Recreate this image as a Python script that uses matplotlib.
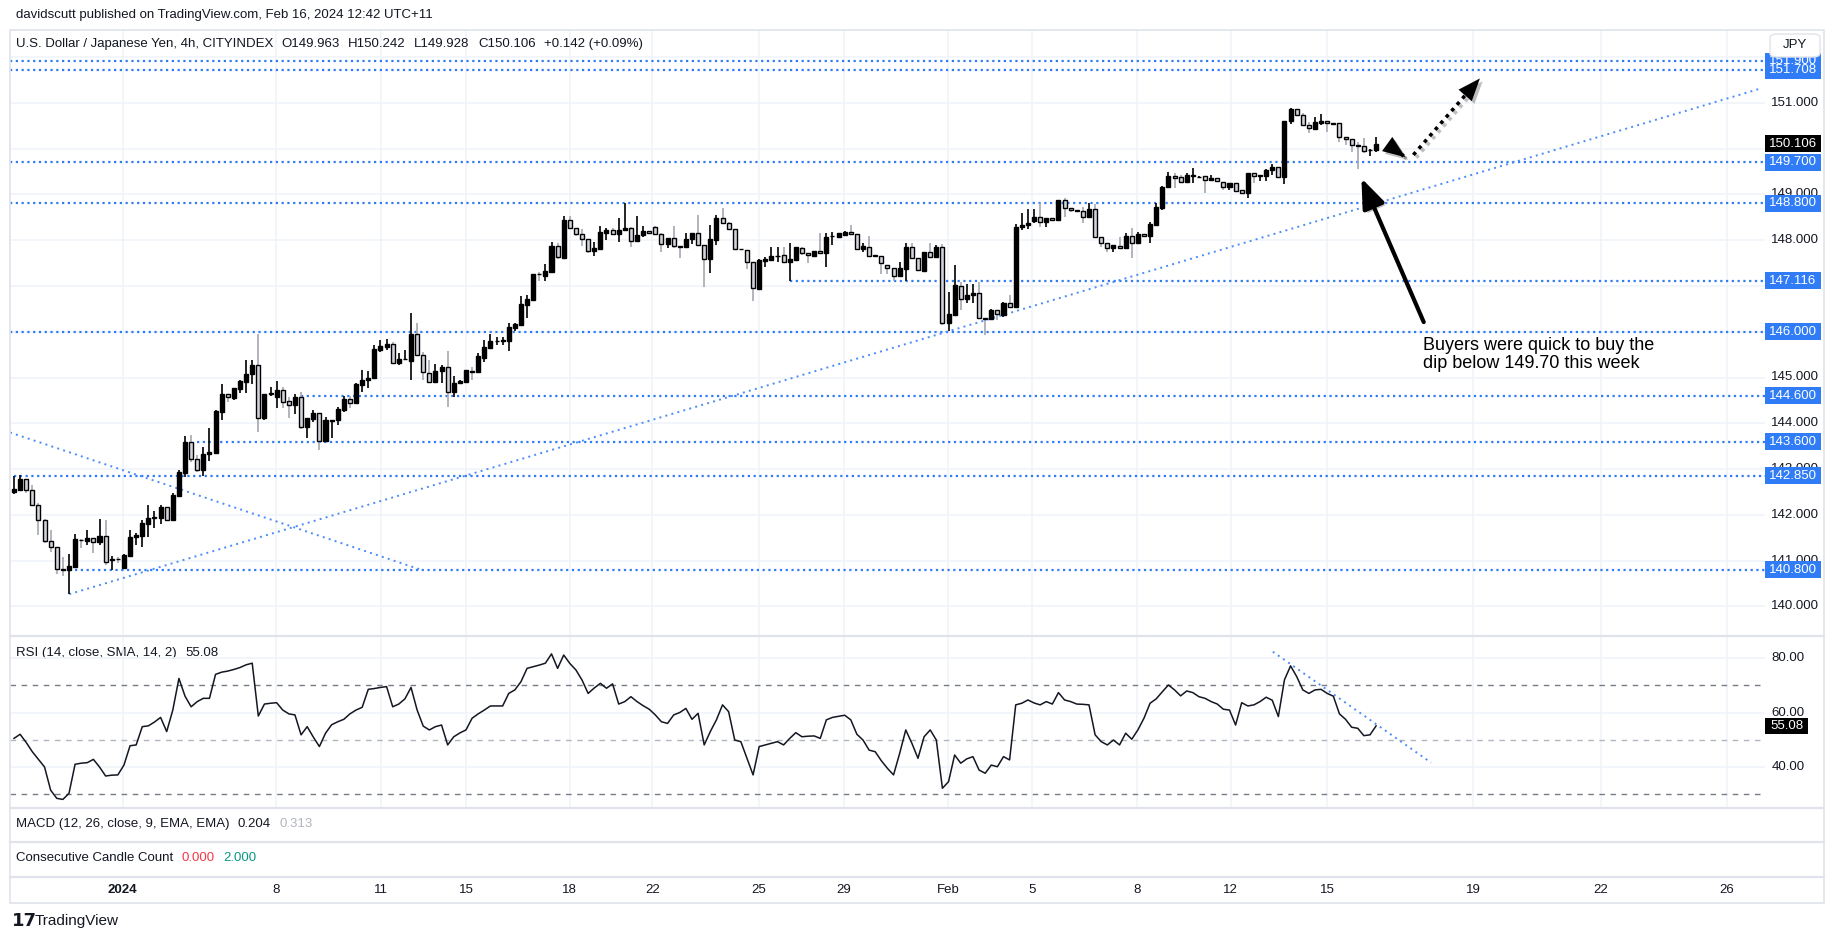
import numpy as np
import matplotlib
matplotlib.use('Agg')
import matplotlib.pyplot as plt
import matplotlib.patheffects as pe
from matplotlib.patches import Rectangle, FancyBboxPatch
from matplotlib.lines import Line2D

plt.rcParams['font.family'] = ['Liberation Sans', 'DejaVu Sans']

# USD/JPY 4h candles (bar 0 = first visible bar)
opens = [
    142.49, 142.54, 142.78, 142.54, 142.21, 141.88, 141.44, 141.31, 140.81, 140.80,
    140.87, 141.46, 141.44, 141.49, 141.40, 141.55, 141.01, 141.04, 140.84, 141.11,
    141.51, 141.55, 141.81, 141.93, 141.94, 142.17, 141.88, 142.42, 142.92, 143.60,
    143.23, 142.99, 143.34, 143.36, 144.25, 144.65, 144.56, 144.75, 144.90, 145.07,
    145.27, 144.12, 144.64, 144.58, 144.73, 144.49, 144.40, 144.57, 143.93, 144.09,
    144.22, 143.62, 144.06, 144.07, 144.29, 144.54, 144.44, 144.84, 144.95, 144.98,
    145.61, 145.67, 145.73, 145.31, 145.40, 145.37, 145.95, 145.49, 145.09, 144.91,
    145.14, 145.22, 144.69, 144.87, 144.91, 145.14, 145.11, 145.43, 145.65, 145.79,
    145.80, 145.80, 146.09, 146.15, 146.58, 146.69, 147.26, 147.22, 147.31, 147.87,
    147.60, 148.44, 148.26, 148.13, 148.02, 147.77, 147.81, 148.16, 148.22, 148.13,
    148.21, 148.26, 147.97, 148.11, 148.19, 148.28, 148.13, 147.91, 148.04, 147.88,
    147.84, 148.02, 148.15, 147.89, 147.58, 148.00, 148.48, 148.37, 148.24, 147.80,
    147.78, 147.52, 146.93, 147.55, 147.57, 147.65, 147.67, 147.52, 147.57, 147.82,
    147.71, 147.66, 147.76, 147.71, 148.08, 148.07, 148.12, 148.18, 148.13, 147.80,
    147.86, 147.67, 147.65, 147.46, 147.38, 147.22, 147.37, 147.84, 147.60, 147.33,
    147.73, 147.64, 147.86, 146.18, 146.36, 147.00, 146.71, 146.80, 146.84, 146.31,
    146.27, 146.47, 146.37, 146.62, 146.53, 148.28, 148.33, 148.42, 148.51, 148.39,
    148.49, 148.43, 148.87, 148.69, 148.66, 148.64, 148.50, 148.68, 148.07, 147.94,
    147.82, 147.88, 147.82, 148.10, 147.93, 148.13, 148.08, 148.33, 148.69, 149.15,
    149.41, 149.37, 149.26, 149.41, 149.37, 149.39, 149.31, 149.35, 149.26, 149.17,
    149.24, 149.09, 149.02, 149.46, 149.40, 149.39, 149.52, 149.59, 149.37, 150.59,
    150.86, 150.73, 150.51, 150.43, 150.55, 150.61, 150.55, 150.55, 150.26, 150.20,
    150.07, 150.05, 149.96, 149.963]
highs = [
    142.85, 142.87, 142.78, 142.65, 142.25, 141.92, 141.67, 141.31, 141.07, 141.15,
    141.58, 141.47, 141.67, 141.49, 141.91, 141.89, 141.10, 141.08, 141.14, 141.67,
    141.60, 141.89, 142.22, 142.08, 142.21, 142.17, 142.47, 142.97, 143.72, 143.74,
    143.31, 143.49, 143.90, 144.29, 144.85, 144.65, 144.76, 144.95, 145.38, 145.38,
    145.96, 144.65, 144.80, 144.92, 144.80, 144.58, 144.64, 144.68, 144.11, 144.28,
    144.22, 144.14, 144.08, 144.36, 144.60, 144.60, 144.87, 145.16, 145.14, 145.71,
    145.82, 145.85, 145.78, 145.54, 145.60, 146.40, 146.18, 145.55, 145.38, 145.29,
    145.27, 145.58, 145.03, 144.94, 145.17, 145.24, 145.54, 145.82, 145.95, 145.88,
    145.88, 146.20, 146.20, 146.77, 146.80, 147.27, 147.31, 147.48, 147.95, 147.94,
    148.53, 148.53, 148.26, 148.24, 148.02, 147.95, 148.31, 148.27, 148.27, 148.48,
    148.80, 148.29, 148.53, 148.31, 148.20, 148.31, 148.15, 148.04, 148.31, 147.88,
    148.16, 148.15, 148.55, 147.89, 148.33, 148.55, 148.69, 148.39, 148.24, 147.81,
    147.78, 147.52, 147.58, 147.64, 147.84, 147.86, 147.86, 147.93, 147.86, 147.86,
    147.71, 147.76, 148.15, 148.16, 148.18, 148.16, 148.19, 148.33, 148.13, 147.93,
    148.08, 147.67, 147.65, 147.46, 147.38, 147.53, 147.93, 147.93, 147.60, 147.73,
    147.93, 147.89, 147.91, 146.87, 147.46, 147.09, 147.04, 147.04, 147.09, 146.31,
    146.49, 146.47, 146.64, 146.80, 148.35, 148.59, 148.67, 148.67, 148.82, 148.49,
    148.49, 148.87, 148.91, 148.69, 148.66, 148.73, 148.80, 148.79, 148.07, 147.94,
    147.89, 148.07, 148.15, 148.26, 148.18, 148.13, 148.40, 148.80, 149.18, 149.48,
    149.46, 149.42, 149.46, 149.57, 149.40, 149.39, 149.42, 149.35, 149.26, 149.24,
    149.24, 149.09, 149.46, 149.46, 149.41, 149.55, 149.66, 149.59, 150.60, 150.88,
    150.86, 150.77, 150.58, 150.68, 150.75, 150.61, 150.55, 150.55, 150.26, 150.20,
    150.15, 150.24, 149.98, 150.242]
lows = [
    142.45, 142.53, 142.47, 142.21, 141.56, 141.39, 141.20, 140.71, 140.67, 140.27,
    140.87, 141.27, 141.34, 141.16, 141.34, 140.91, 140.80, 140.96, 140.84, 141.11,
    141.34, 141.30, 141.52, 141.72, 141.81, 141.88, 141.88, 142.42, 142.82, 143.16,
    142.94, 142.86, 143.18, 143.33, 144.07, 144.47, 144.51, 144.67, 144.67, 144.86,
    143.82, 144.07, 144.60, 144.33, 144.33, 144.11, 144.20, 143.87, 143.67, 144.02,
    143.41, 143.62, 143.67, 143.96, 144.25, 144.33, 144.44, 144.69, 144.76, 144.97,
    145.55, 145.61, 145.31, 145.27, 145.39, 144.95, 145.49, 144.95, 144.87, 144.91,
    144.89, 144.36, 144.58, 144.85, 144.90, 144.95, 145.11, 145.33, 145.65, 145.72,
    145.72, 145.58, 146.01, 146.13, 146.29, 146.69, 147.11, 147.11, 147.29, 147.58,
    147.59, 148.26, 148.08, 147.87, 147.71, 147.66, 147.81, 148.00, 148.11, 147.95,
    148.21, 147.86, 147.95, 148.06, 148.14, 148.13, 147.75, 147.82, 147.82, 147.62,
    147.84, 147.92, 147.89, 146.98, 147.28, 147.89, 148.37, 148.24, 147.80, 147.79,
    147.37, 146.66, 146.90, 147.42, 147.57, 147.53, 147.52, 147.11, 147.57, 147.67,
    147.49, 147.66, 147.71, 147.42, 147.89, 148.06, 148.11, 148.13, 147.78, 147.75,
    147.65, 147.64, 147.27, 147.26, 147.11, 147.21, 147.11, 147.60, 147.35, 147.33,
    147.64, 147.64, 146.15, 146.02, 146.36, 146.47, 146.63, 146.63, 146.31, 145.93,
    146.27, 146.26, 146.33, 146.53, 146.53, 148.21, 148.24, 148.38, 148.29, 148.28,
    148.44, 148.41, 148.51, 148.62, 148.61, 148.37, 148.50, 148.07, 147.86, 147.75,
    147.75, 147.82, 147.82, 147.62, 147.93, 148.08, 147.94, 148.33, 148.66, 149.13,
    149.13, 149.26, 149.26, 149.24, 149.36, 149.02, 149.29, 149.28, 149.09, 149.09,
    149.07, 149.02, 148.93, 149.24, 149.30, 149.30, 149.42, 149.37, 149.22, 150.53,
    150.70, 150.50, 150.33, 150.42, 150.51, 150.35, 150.54, 150.15, 150.08, 149.93,
    149.55, 149.90, 149.84, 149.928]
closes = [
    142.56, 142.78, 142.54, 142.21, 141.88, 141.44, 141.31, 140.81, 140.80, 140.88,
    141.47, 141.45, 141.49, 141.40, 141.55, 140.98, 141.04, 141.03, 141.12, 141.52,
    141.56, 141.82, 141.93, 141.96, 142.17, 141.88, 142.43, 142.93, 143.60, 143.23,
    142.99, 143.34, 143.37, 144.27, 144.65, 144.57, 144.76, 144.92, 145.08, 145.27,
    144.12, 144.65, 144.65, 144.73, 144.47, 144.41, 144.58, 143.93, 144.11, 144.22,
    143.62, 144.07, 144.07, 144.31, 144.54, 144.44, 144.85, 144.95, 144.99, 145.62,
    145.69, 145.73, 145.31, 145.40, 145.41, 145.95, 145.49, 145.11, 144.91, 145.14,
    145.22, 144.69, 144.87, 144.92, 145.16, 145.13, 145.46, 145.66, 145.80, 145.80,
    145.81, 146.10, 146.16, 146.60, 146.71, 147.25, 147.25, 147.33, 147.87, 147.64,
    148.44, 148.26, 148.13, 148.02, 147.77, 147.82, 148.17, 148.22, 148.13, 148.22,
    148.26, 147.97, 148.11, 148.20, 148.15, 148.13, 147.91, 148.04, 147.88, 147.84,
    148.02, 148.15, 147.89, 147.58, 148.02, 148.48, 148.37, 148.24, 147.80, 147.80,
    147.52, 146.95, 147.57, 147.59, 147.65, 147.66, 147.52, 147.59, 147.84, 147.71,
    147.67, 147.76, 147.71, 148.06, 148.09, 148.16, 148.18, 148.13, 147.80, 147.87,
    147.65, 147.65, 147.49, 147.38, 147.22, 147.38, 147.84, 147.60, 147.35, 147.73,
    147.64, 147.84, 146.18, 146.38, 147.02, 146.71, 146.80, 146.85, 146.31, 146.27,
    146.47, 146.38, 146.62, 146.53, 148.29, 148.33, 148.38, 148.51, 148.39, 148.49,
    148.44, 148.87, 148.69, 148.66, 148.64, 148.50, 148.68, 148.07, 147.94, 147.82,
    147.89, 147.82, 148.10, 147.93, 148.13, 148.08, 148.35, 148.72, 149.15, 149.41,
    149.36, 149.26, 149.42, 149.42, 149.38, 149.31, 149.36, 149.28, 149.17, 149.24,
    149.08, 149.02, 149.46, 149.41, 149.41, 149.53, 149.59, 149.37, 150.60, 150.86,
    150.73, 150.51, 150.44, 150.57, 150.61, 150.55, 150.54, 150.26, 150.20, 150.08,
    150.05, 149.95, 149.97, 150.106]

# RSI(14) per bar
rsi = [
    50.5, 52.0, 49.0, 45.6, 42.8, 40.0, 31.5, 28.5, 28.1, 30.3,
    41.0, 41.4, 41.6, 42.8, 40.0, 36.7, 37.0, 37.1, 40.7, 47.8,
    48.1, 54.8, 55.1, 56.5, 58.2, 53.0, 60.9, 72.5, 66.0, 62.1,
    64.0, 65.2, 65.2, 74.0, 74.8, 75.2, 75.8, 76.5, 77.5, 78.1,
    58.7, 63.1, 63.4, 63.6, 60.9, 59.5, 59.1, 51.8, 54.8, 51.0,
    47.5, 52.4, 55.5, 56.6, 57.5, 59.5, 60.9, 61.9, 68.5, 68.8,
    69.2, 69.5, 62.1, 63.1, 65.0, 69.2, 60.9, 55.0, 53.6, 54.8,
    55.4, 48.1, 51.1, 52.5, 53.6, 57.9, 59.5, 60.9, 62.4, 62.4,
    62.4, 67.0, 68.3, 71.3, 76.2, 76.8, 77.4, 78.1, 81.5, 76.2,
    81.1, 78.0, 75.6, 71.9, 67.0, 69.0, 70.7, 68.9, 70.5, 63.1,
    64.0, 65.8, 64.0, 62.5, 61.2, 59.1, 56.6, 56.0, 59.1, 60.0,
    61.5, 57.5, 59.7, 48.1, 53.0, 57.3, 62.8, 60.3, 49.9, 49.3,
    43.2, 37.1, 47.5, 48.1, 48.7, 49.3, 48.1, 50.5, 52.6, 51.1,
    51.3, 51.4, 50.5, 57.3, 58.2, 58.6, 59.0, 57.3, 52.0, 49.9,
    46.2, 45.6, 42.3, 39.5, 37.1, 45.0, 53.6, 48.7, 43.2, 51.1,
    53.6, 49.9, 32.2, 34.6, 44.4, 41.4, 43.0, 43.8, 38.9, 37.7,
    40.7, 40.1, 43.8, 42.6, 62.8, 63.4, 64.6, 63.5, 62.8, 64.0,
    63.1, 67.3, 64.6, 64.0, 63.1, 63.0, 62.8, 51.8, 49.3, 48.1,
    49.9, 48.1, 52.4, 50.2, 53.6, 57.9, 63.4, 65.0, 67.6, 70.1,
    68.3, 66.1, 67.9, 67.3, 65.8, 65.2, 64.0, 63.1, 61.2, 60.9,
    55.4, 63.6, 62.4, 62.8, 64.0, 65.6, 64.5, 58.5, 72.0, 77.1,
    73.2, 68.3, 67.0, 68.3, 68.5, 67.0, 66.0, 59.5, 57.5, 54.6,
    54.2, 51.5, 51.8, 55.08]

# date labels and the bar they sit on
date_labels = ['2024', '8', '11', '15', '18', '22', '25', '29', 'Feb',
               '5', '8', '12', '15', '19', '22', '26']
date_bars = [17.8, 42.9, 60.1, 74.0, 91.0, 104.5, 122.0, 135.9, 152.9,
             166.7, 183.9, 199.2, 215.0, 238.9, 259.8, 280.4]

# horizontal levels drawn by the author and the bar where each starts
levels = [151.900, 151.708, 149.700, 148.800, 147.116, 146.000,
          144.600, 143.600, 142.850, 140.800]
level_from = [-1, -1, -1, -1, 127, -1, 47, 30, 0, 10]

# trend lines (bar, price)
trend_up = [(9.05, 140.27), (286.2, 151.32)]
trend_down = [(-0.65, 143.80), (66.7, 140.80)]
rsi_trend = [(206.1, 82.3), (232.0, 41.6)]

# arrows (bar, price)
arrow_solid = [(230.8, 146.21), (220.6, 149.35)]
arrow_dot1 = [(225.0, 150.08), (227.8, 149.81)]
arrow_dot2 = [(229.1, 149.86), (240.0, 151.53)]

last_price = 150.106
last_rsi = 55.08

# ---------------------------------------------------------------
W, H = 1835, 939
fig = plt.figure(figsize=(W / 100, H / 100), dpi=100)
fig.patch.set_facecolor('white')

TXT = '#131722'
GRID = '#f0f3fa'
BORDER = '#e0e3eb'
BLUE = '#2f7cf6'
BLUE_LINE = '#4a8cf7'

def frac(x0, y0, x1, y1):
    return [x0 / W, 1 - y1 / H, (x1 - x0) / W, (y1 - y0) / H]

PX0, PX1 = 10, 1765
BAR0, PITCH = 14, 6.108
xlim = ((PX0 - BAR0) / PITCH, (PX1 - BAR0) / PITCH)

ax = fig.add_axes(frac(PX0, 30, PX1, 636))
ax.set_xlim(*xlim)
ax.set_ylim(151 - (636 - 102.7) / 45.8, 151 + (102.7 - 30) / 45.8)
ax.set_axis_off()

rx = fig.add_axes(frac(PX0, 636, PX1, 808))
rx.set_xlim(*xlim)
rx.set_ylim(80 - (808 - 658) / 2.725, 80 + (658 - 636) / 2.725)
rx.set_axis_off()

xa = fig.add_axes(frac(PX0, 877, PX1, 903))
xa.set_xlim(*xlim)
xa.set_ylim(0, 1)
xa.set_axis_off()

# grids
for d in date_bars:
    ax.axvline(d, color=GRID, lw=1.2, zorder=0)
    rx.axvline(d, color=GRID, lw=1.2, zorder=0)
for p in range(139, 153):
    ax.axhline(p, color=GRID, lw=1.2, zorder=0)
for r in (40, 60, 80):
    rx.axhline(r, color=GRID, lw=1.2, zorder=0)

# candles
n = min(len(opens), len(highs), len(lows), len(closes))
o = np.array(opens[:n]); h = np.array(highs[:n])
l = np.array(lows[:n]); c = np.array(closes[:n])
x = np.arange(n)
up = c >= o
ax.vlines(x[up], l[up], h[up], color='black', lw=1.2, zorder=3)
ax.vlines(x[~up], l[~up], h[~up], color='#a5a8b0', lw=1.2, zorder=3)
lo = np.minimum(o, c)
hgt = np.maximum(np.abs(c - o), 0.012)
ax.bar(x[up], hgt[up], bottom=lo[up], width=0.66, color='black',
       edgecolor='black', linewidth=1, zorder=4)
ax.bar(x[~up], hgt[~up], bottom=lo[~up], width=0.66, color='#d1d4dc',
       edgecolor='black', linewidth=1, zorder=4)

# levels and trend lines
for lv, s in zip(levels, level_from):
    ax.hlines(lv, max(s, xlim[0]), xlim[1], color=BLUE, lw=1.6,
              linestyles=(0, (1, 1.6)), zorder=2)
for tl in (trend_up, trend_down):
    ax.plot([tl[0][0], tl[1][0]], [tl[0][1], tl[1][1]], color=BLUE_LINE,
            lw=1.4, ls=(0, (1, 2.2)), zorder=2)

# arrows
shadow = [pe.SimpleLineShadow(offset=(2, -2), alpha=0.25, shadow_color='k'), pe.Normal()]
pshadow = [pe.SimplePatchShadow(offset=(2, -2), alpha=0.25, shadow_rgbFace='k'), pe.Normal()]
a = ax.annotate('', xy=arrow_solid[1], xytext=arrow_solid[0],
                arrowprops=dict(arrowstyle='-|>,head_length=0.9,head_width=0.35',
                                lw=3, color='black', mutation_scale=20,
                                shrinkA=0, shrinkB=0), zorder=6)
a.arrow_patch.set_path_effects(pshadow)
for seg in (arrow_dot1, arrow_dot2):
    (x0, y0), (x1, y1) = seg
    ax.plot([x0, x0 + 0.9 * (x1 - x0)], [y0, y0 + 0.9 * (y1 - y0)], color='black',
            lw=2.6, ls=(0, (1, 1.3)), zorder=6, path_effects=shadow)
    b = ax.annotate('', xy=(x1, y1), xytext=(x0 + 0.8 * (x1 - x0), y0 + 0.8 * (y1 - y0)),
                    arrowprops=dict(arrowstyle='-|>,head_length=0.9,head_width=0.35',
                                    lw=0, color='black', mutation_scale=18,
                                    shrinkA=0, shrinkB=0), zorder=6)
    b.arrow_patch.set_path_effects(pshadow)

fig.text(1423 / W, 1 - 337 / H, 'Buyers were quick to buy the\ndip below 149.70 this week',
         fontsize=13, color='black', va='top', ha='left', linespacing=1.1)

# price scale
tr = ax.get_yaxis_transform()
aw = PX1 - PX0
for t in [140, 141, 142, 143, 144, 145, 148, 149, 151]:
    ax.text(1 + 30 / aw, t, f'{t:.3f}', transform=tr, ha='center', va='center',
            color=TXT, fontsize=9.5, clip_on=False, zorder=8)
hh = 8.5 / 45.8
for lv in levels + [last_price]:
    col = 'black' if lv == last_price else BLUE
    ax.add_patch(Rectangle((1.0, lv - hh), 56 / aw, 2 * hh, transform=tr,
                           facecolor=col, edgecolor='none', clip_on=False, zorder=9))
    ax.text(1 + 28 / aw, lv, f'{lv:.3f}', transform=tr, ha='center', va='center',
            color='white', fontsize=9.5, clip_on=False, zorder=10)

fig.add_artist(FancyBboxPatch((1770 / W, 1 - 57 / H), 50 / W, 23 / H,
                              boxstyle='round,pad=0,rounding_size=0.004',
                              transform=fig.transFigure, facecolor='white',
                              edgecolor=BORDER, lw=1))
fig.text(1795 / W, 1 - 45.5 / H, 'JPY', ha='center', va='center', fontsize=9.5, color=TXT)

# RSI panel
rx.plot(np.arange(len(rsi)), rsi, color=TXT, lw=1.1, zorder=4)
rx.axhline(70, color='#787b86', lw=1, ls=(0, (4, 4)), zorder=2)
rx.axhline(50, color='#b2b5be', lw=1, ls=(0, (4, 4)), zorder=2)
rx.axhline(30, color='#787b86', lw=1, ls=(0, (4, 4)), zorder=2)
rx.plot([rsi_trend[0][0], rsi_trend[1][0]], [rsi_trend[0][1], rsi_trend[1][1]],
        color=BLUE_LINE, lw=1.4, ls=(0, (1, 2.2)), zorder=3)
rtr = rx.get_yaxis_transform()
for r in (80, 60, 40):
    rx.text(1 + 23 / aw, r, f'{r:.2f}', transform=rtr, ha='center', va='center',
            color=TXT, fontsize=9.5, clip_on=False)
rh = 8 / 2.725
rx.add_patch(Rectangle((1.0, last_rsi - rh), 43 / aw, 2 * rh, transform=rtr,
                       facecolor='black', edgecolor='none', clip_on=False, zorder=9))
rx.text(1 + 21.5 / aw, last_rsi, f'{last_rsi:.2f}', transform=rtr, ha='center',
        va='center', color='white', fontsize=9.5, clip_on=False, zorder=10)

# date axis
for d, lab in zip(date_bars, date_labels):
    xa.text(d, 0.5, lab, ha='center', va='center', fontsize=9.5, color=TXT,
            fontweight='bold' if lab == '2024' else 'normal')

# frame and panel separators
fig.add_artist(Rectangle((PX0 / W, 1 - 903 / H), (1824 - PX0) / W, (903 - 30) / H,
                         transform=fig.transFigure, fill=False, edgecolor=BORDER, lw=1.2))
for yy in (636, 808, 842, 877):
    fig.add_artist(Line2D([PX0 / W, 1824 / W], [1 - yy / H] * 2, color=BORDER, lw=1.6))

# legend-style texts
def line_of_text(y, parts, x=16):
    prev = ax.annotate(parts[0][0], xy=(x, H - y), xycoords='figure pixels',
                       va='center', ha='left', fontsize=9.5, color=parts[0][1],
                       annotation_clip=False)
    for s, col in parts[1:]:
        prev = ax.annotate(s, xy=(1, 0.5), xycoords=prev, xytext=(6, 0),
                           textcoords='offset points', va='center', ha='left',
                           fontsize=9.5, color=col, annotation_clip=False)

fig.text(16 / W, 1 - 15 / H, 'davidscutt published on TradingView.com, Feb 16, 2024 12:42 UTC+11',
         fontsize=9.5, color=TXT, va='center')
line_of_text(44, [('U.S. Dollar / Japanese Yen, 4h, CITYINDEX', TXT),
                  ('O149.963', TXT), ('H150.242', TXT), ('L149.928', TXT),
                  ('C150.106', TXT), ('+0.142 (+0.09%)', TXT)])
line_of_text(653, [('RSI (14, close, SMA, 14, 2)', TXT), (f'{last_rsi:.2f}', TXT)])
line_of_text(824, [('MACD (12, 26, close, 9, EMA, EMA)', TXT), ('0.204', TXT), ('0.313', '#b2b5be')])
line_of_text(858, [('Consecutive Candle Count', TXT), ('0.000', '#f23645'), ('2.000', '#089981')])

# TradingView mark
fig.text(12 / W, 1 - 921 / H, '17', fontsize=13, fontweight='heavy', color=TXT,
         va='center', family='DejaVu Sans')
fig.text(35 / W, 1 - 921 / H, 'TradingView', fontsize=11, color=TXT, va='center')

fig.savefig('out.png', dpi=100, facecolor='white')
